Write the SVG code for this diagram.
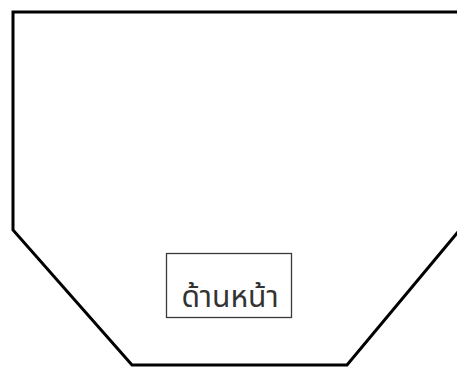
<svg xmlns="http://www.w3.org/2000/svg" width="457" height="367" viewBox="0 0 457 367">
<style>
.outline{fill:#fff;stroke:#000;stroke-width:3;stroke-linejoin:miter}
.box{fill:#fff;stroke:#3a3a3a;stroke-width:1.3}
.lbl{font-family:"Noto Sans Thai","Leelawadee UI",Tahoma,"DejaVu Sans","Noto Sans",sans-serif;font-size:30px;font-weight:400;fill:#333;text-anchor:middle}
</style>
<rect width="457" height="367" fill="#fff"/>
<g id="outline">
<polygon class="outline" points="13,12 468,12 468,220 347,365 132,365 13,230"/>
</g>
<g id="front">
<rect class="box" x="166.5" y="253.5" width="125" height="64"/>
<text class="lbl" x="230" y="307">ด้านหน้า</text>
</g>
<g id="connectors"/>
</svg>
